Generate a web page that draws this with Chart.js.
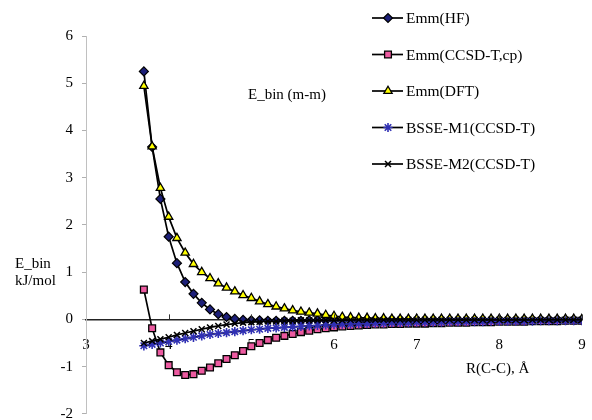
<!DOCTYPE html>
<html>
<head>
<meta charset="utf-8">
<title>E_bin (m-m)</title>
<script src="https://cdn.jsdelivr.net/npm/chart.js@4/dist/chart.umd.min.js"></script>
<style>
    html, body { margin: 0; padding: 0; background: #fff; }
    canvas { display: block; }
</style>
</head>
<body>
<canvas id="ebin-chart" width="592" height="420"></canvas>
<script>
// R(C-C) distances, Å
const rValues = [
    3.7, 3.8, 3.9, 4.0, 4.1, 4.2, 4.3, 4.4, 4.5, 4.6,
    4.7, 4.8, 4.9, 5.0, 5.1, 5.2, 5.3, 5.4, 5.5, 5.6,
    5.7, 5.8, 5.9, 6.0, 6.1, 6.2, 6.3, 6.4, 6.5, 6.6,
    6.7, 6.8, 6.9, 7.0, 7.1, 7.2, 7.3, 7.4, 7.5, 7.6,
    7.7, 7.8, 7.9, 8.0, 8.1, 8.2, 8.3, 8.4, 8.5, 8.6,
    8.7, 8.8, 8.9, 9.0
];

// E_bin, kJ/mol
const emmHF = [
    5.25, 3.65, 2.55, 1.75, 1.19, 0.79, 0.54, 0.35, 0.21, 0.11,
    0.05, 0.01, -0.01, -0.02, -0.02, -0.03, -0.03, -0.03, -0.03, -0.03,
    -0.02, -0.02, -0.02, -0.02, -0.02, -0.02, -0.02, -0.01, -0.01, -0.01,
    -0.01, -0.01, -0.01, -0.01, -0.01, -0.01, -0.01, -0.01, -0.01, -0.01,
    -0.01, -0.01, -0.01, -0.01, -0.01, -0.01, -0.01, -0.01, -0.01, -0.01,
    -0.01, -0.01, -0.01, -0.01
];

const emmCCSD = [
    0.63, -0.19, -0.70, -0.97, -1.12, -1.18, -1.16, -1.09, -1.02, -0.93,
    -0.84, -0.76, -0.67, -0.57, -0.50, -0.44, -0.39, -0.35, -0.31, -0.27,
    -0.24, -0.21, -0.19, -0.17, -0.15, -0.14, -0.13, -0.12, -0.11, -0.11,
    -0.10, -0.10, -0.09, -0.09, -0.09, -0.08, -0.08, -0.07, -0.07, -0.07,
    -0.06, -0.06, -0.06, -0.05, -0.05, -0.05, -0.05, -0.04, -0.04, -0.04,
    -0.04, -0.03, -0.03, -0.03
];

const emmDFT = [
    4.94, 3.66, 2.78, 2.17, 1.72, 1.41, 1.17, 1.00, 0.87, 0.76,
    0.67, 0.59, 0.51, 0.45, 0.38, 0.32, 0.27, 0.23, 0.19, 0.16,
    0.14, 0.12, 0.09, 0.07, 0.05, 0.04, 0.03, 0.03, 0.02, 0.02,
    0.01, 0.01, 0.01, 0.01, 0.01, 0.01, 0.01, 0.01, 0.01, 0.01,
    0.01, 0.01, 0.01, 0.01, 0.01, 0.01, 0.01, 0.01, 0.01, 0.01,
    0.01, 0.01, 0.01, 0.01
];

const bsseM1 = [
    -0.56, -0.53, -0.50, -0.47, -0.44, -0.41, -0.38, -0.35, -0.32, -0.30,
    -0.28, -0.26, -0.24, -0.22, -0.21, -0.19, -0.18, -0.17, -0.16, -0.15,
    -0.14, -0.13, -0.12, -0.11, -0.10, -0.10, -0.09, -0.09, -0.08, -0.08,
    -0.07, -0.07, -0.07, -0.06, -0.06, -0.06, -0.06, -0.05, -0.05, -0.05,
    -0.05, -0.05, -0.04, -0.04, -0.04, -0.04, -0.04, -0.04, -0.03, -0.03,
    -0.03, -0.03, -0.03, -0.03
];

const bsseM2 = [
    -0.50, -0.46, -0.42, -0.38, -0.33, -0.29, -0.25, -0.21, -0.17, -0.14,
    -0.11, -0.09, -0.07, -0.06, -0.05, -0.04, -0.04, -0.03, -0.03, -0.02,
    -0.02, -0.02, -0.02, -0.02, -0.02, -0.01, -0.01, -0.01, -0.01, -0.01,
    -0.01, -0.01, -0.01, -0.01, -0.01, -0.01, -0.01, -0.01, -0.01, -0.01,
    -0.01, -0.01, -0.01, -0.01, -0.01, -0.01, -0.01, -0.01, -0.01, -0.01,
    -0.01, -0.01, -0.01, -0.01
];

const seriesNames = ['Emm(HF)', 'Emm(CCSD-T,cp)', 'Emm(DFT)', 'BSSE-M1(CCSD-T)', 'BSSE-M2(CCSD-T)'];
const xTicks = [3, 4, 5, 6, 7, 8, 9];
const yTicks = [-2, -1, 0, 1, 2, 3, 4, 5, 6];

const FONT = "'Liberation Serif', 'Times New Roman', serif";
Chart.defaults.font.family = FONT;
Chart.defaults.font.size = 15;
Chart.defaults.color = '#000';

function toPoints(values) {
    return rValues.map((r, i) => ({ x: r, y: values[i] }));
}

function makeDataset(label, values, style, fill, border, radius, pointBorder, order) {
    return {
        label: label,
        data: toPoints(values),
        borderColor: '#000',
        borderWidth: 1.7,
        pointStyle: style,
        pointRadius: radius,
        pointBackgroundColor: fill,
        pointBorderColor: border,
        pointBorderWidth: pointBorder,
        tension: 0,
        order: order
    };
}

const datasets = [
    makeDataset(seriesNames[0], emmHF, 'rectRot', '#1c1f78', '#000', 4.5, 1.2, 5),
    makeDataset(seriesNames[1], emmCCSD, 'rect', '#ec5aa0', '#000', 4.8, 1.3, 4),
    makeDataset(seriesNames[2], emmDFT, 'triangle', '#ffff00', '#000', 4.8, 1.3, 3),
    makeDataset(seriesNames[3], bsseM1, 'star', '#3030b4', '#3030b4', 4.6, 1.6, 2),
    makeDataset(seriesNames[4], bsseM2, 'crossRot', '#000', '#000', 4.2, 1.5, 1)
];

// Small upward tick marks on the x axis, which sits at y = 0
const xTickMarks = {
    id: 'xTickMarks',
    afterDatasetsDraw(chart) {
        const { ctx, scales: { x, y } } = chart;
        const y0 = y.getPixelForValue(0);
        ctx.save();
        ctx.strokeStyle = '#333';
        ctx.lineWidth = 1;
        xTicks.slice(1).forEach(v => {
            const px = Math.round(x.getPixelForValue(v)) + 0.5;
            ctx.beginPath();
            ctx.moveTo(px, y0 - 5);
            ctx.lineTo(px, y0);
            ctx.stroke();
        });
        ctx.restore();
    }
};

// Legend in the upper right, plus the free-standing labels
const sideLegend = {
    id: 'sideLegend',
    afterDraw(chart) {
        const ctx = chart.ctx;
        ctx.save();
        ctx.font = '15.5px ' + FONT;
        ctx.textBaseline = 'middle';
        ctx.textAlign = 'left';

        chart.data.datasets.forEach((ds, i) => {
            const y = 18 + i * 36.5;
            ctx.strokeStyle = '#000';
            ctx.lineWidth = 1.7;
            ctx.beginPath();
            ctx.moveTo(372, y);
            ctx.lineTo(403, y);
            ctx.stroke();

            ctx.fillStyle = ds.pointBackgroundColor;
            ctx.strokeStyle = ds.pointBorderColor;
            ctx.lineWidth = ds.pointBorderWidth;
            Chart.helpers.drawPoint(ctx, {
                pointStyle: ds.pointStyle,
                radius: ds.pointRadius,
                borderWidth: ds.pointBorderWidth,
                rotation: 0
            }, 388, y);

            ctx.fillStyle = '#000';
            ctx.fillText(ds.label, 406, y + 1);
        });

        ctx.font = '15px ' + FONT;
        ctx.textBaseline = 'alphabetic';
        ctx.fillStyle = '#000';
        ctx.fillText('E_bin (m-m)', 248, 99);
        ctx.fillText('E_bin', 15, 268);
        ctx.fillText('kJ/mol', 15, 285);
        ctx.fillText('R(C-C), Å', 466, 373);
        ctx.restore();
    }
};

const chart = new Chart(document.getElementById('ebin-chart'), {
    type: 'line',
    data: { datasets: datasets },
    options: {
        responsive: false,
        animation: false,
        layout: { padding: { top: 36, right: 10, bottom: 5, left: 0 } },
        plugins: {
            legend: { display: false },
            tooltip: { enabled: false }
        },
        scales: {
            x: {
                type: 'linear',
                min: 3,
                max: 9,
                position: { y: 0 },
                afterBuildTicks: scale => { scale.ticks = xTicks.map(v => ({ value: v })); },
                afterFit: scale => { scale.paddingLeft = 0; scale.paddingRight = 0; },
                grid: { display: false },
                border: { display: true, color: '#222', width: 1.5 },
                ticks: { padding: 9, maxRotation: 0, color: '#000' }
            },
            y: {
                type: 'linear',
                min: -2,
                max: 6,
                afterBuildTicks: scale => { scale.ticks = yTicks.map(v => ({ value: v })); },
                afterFit: scale => { scale.width = 86; scale.paddingTop = 0; scale.paddingBottom = 0; },
                grid: { drawOnChartArea: false, tickLength: 4, color: '#b0b0b0' },
                border: { display: true, color: '#c0c0c0', width: 1 },
                ticks: { padding: 9, color: '#000' }
            }
        }
    },
    plugins: [xTickMarks, sideLegend]
});
</script>
</body>
</html>
